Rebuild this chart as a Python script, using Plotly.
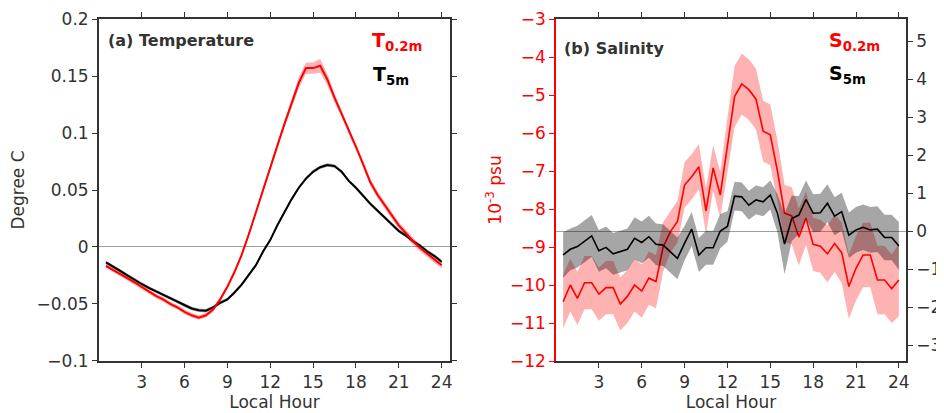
import plotly.graph_objects as go

# diurnal composites: temperature (deg C) and salinity (1e-3 psu) anomalies vs local hour

hours = [0.5, 1.0, 1.5, 2.0, 2.5, 3.0, 3.5, 4.0, 4.5, 5.0, 5.5, 6.0,
         6.5, 7.0, 7.5, 8.0, 8.5, 9.0, 9.5, 10.0, 10.5, 11.0, 11.5, 12.0,
         12.5, 13.0, 13.5, 14.0, 14.5, 15.0, 15.5, 16.0, 16.5, 17.0, 17.5, 18.0,
         18.5, 19.0, 19.5, 20.0, 20.5, 21.0, 21.5, 22.0, 22.5, 23.0, 23.5, 24.0]

t_02m = [-0.0165, -0.020, -0.0235, -0.027, -0.031, -0.035, -0.039, -0.043, -0.046, -0.050, -0.053, -0.057,
         -0.060, -0.062, -0.060, -0.055, -0.046, -0.035, -0.022, -0.007, 0.011, 0.031, 0.051, 0.070,
         0.089, 0.108, 0.126, 0.144, 0.157, 0.157, 0.159, 0.147, 0.131, 0.117, 0.102, 0.088,
         0.073, 0.057, 0.046, 0.037, 0.028, 0.019, 0.012, 0.005, -0.001, -0.006, -0.011, -0.016]
t_02m_err = [0.002, 0.002, 0.002, 0.002, 0.002, 0.002, 0.002, 0.002, 0.002, 0.002, 0.002, 0.002,
             0.002, 0.002, 0.002, 0.002, 0.002, 0.002, 0.002, 0.002, 0.002, 0.002, 0.002, 0.002,
             0.003, 0.003, 0.004, 0.005, 0.005, 0.005, 0.006, 0.005, 0.004, 0.003, 0.003, 0.003,
             0.003, 0.003, 0.003, 0.003, 0.003, 0.003, 0.003, 0.003, 0.003, 0.003, 0.003, 0.003]

t_5m = [-0.0135, -0.017, -0.021, -0.025, -0.029, -0.0325, -0.036, -0.039, -0.042, -0.045, -0.048, -0.0515,
        -0.054, -0.0555, -0.056, -0.053, -0.049, -0.046, -0.040, -0.033, -0.025, -0.016, -0.004, 0.006,
        0.019, 0.031, 0.042, 0.052, 0.060, 0.066, 0.070, 0.072, 0.071, 0.066, 0.058, 0.052,
        0.045, 0.038, 0.032, 0.026, 0.020, 0.014, 0.010, 0.005, 0.001, -0.004, -0.008, -0.013]
t_5m_err = [0.0015] * 48

s_02m = [-10.44, -10.0, -10.35, -9.94, -9.94, -10.24, -10.07, -10.07, -10.5, -10.3, -10.0, -10.16,
         -9.82, -9.91, -9.0, -8.6, -8.33, -7.37, -7.15, -6.89, -8.05, -6.92, -7.63, -6.3,
         -5.04, -4.71, -4.86, -5.11, -5.95, -6.05, -7.0, -8.11, -8.18, -8.74, -8.24, -8.93,
         -8.98, -9.18, -8.91, -9.15, -10.04, -9.56, -9.21, -9.21, -9.87, -9.87, -10.1, -9.87]
s_02m_err = [0.7, 0.7, 0.7, 0.7, 0.7, 0.7, 0.7, 0.7, 0.7, 0.7, 0.7, 0.7,
             0.7, 0.7, 0.65, 0.55, 0.55, 0.6, 0.6, 0.6, 0.6, 0.6, 0.6, 0.7,
             0.8, 0.8, 0.8, 0.8, 0.8, 0.8, 0.8, 0.75, 0.75, 0.75, 0.7, 0.7,
             0.7, 0.75, 0.75, 0.8, 0.85, 0.85, 0.85, 0.85, 0.9, 0.9, 0.9, 0.95]

s_5m = [-0.63, -0.48, -0.41, -0.28, -0.13, -0.52, -0.43, -0.60, -0.54, -0.48, -0.19, -0.30,
        -0.15, -0.35, -0.37, -0.54, -0.72, -0.32, 0.05, -0.63, -0.44, -0.44, 0.0, 0.12,
        0.92, 0.90, 0.68, 0.82, 0.77, 0.95, 0.47, -0.34, 0.33, 0.42, 0.83, 0.47,
        0.48, 0.73, 0.39, 0.51, -0.11, 0.03, 0.10, 0.03, 0.05, -0.17, -0.17, -0.39]
s_5m_err = [0.6, 0.55, 0.55, 0.55, 0.55, 0.55, 0.55, 0.55, 0.55, 0.55, 0.55, 0.55,
            0.55, 0.55, 0.55, 0.55, 0.55, 0.45, 0.45, 0.45, 0.45, 0.45, 0.45, 0.4,
            0.38, 0.38, 0.38, 0.38, 0.38, 0.38, 0.5, 0.8, 0.6, 0.5, 0.5, 0.5,
            0.5, 0.5, 0.5, 0.5, 0.6, 0.6, 0.6, 0.6, 0.6, 0.6, 0.6, 0.63]

x_ticks = [3, 6, 9, 12, 15, 18, 21, 24]

# the page body keeps an 8px margin, so the figure is drawn 8px in from the window corner
OFF = 8
W, H = 944 - OFF, 413 - OFF
FONT = "DejaVu Sans"
RED = "#ff0000"
AX = "#333333"


def fx(px):
    return (px - OFF) / W


def fy(py):
    return 1 - (py - OFF) / H


def band(x, y, err, fill, xa, ya):
    upper = [v + e for v, e in zip(y, err)]
    lower = [v - e for v, e in zip(y, err)]
    return go.Scatter(x=x + x[::-1], y=upper + lower[::-1], fill="toself", fillcolor=fill,
                      line=dict(width=0), mode="lines", hoverinfo="skip",
                      xaxis=xa, yaxis=ya, showlegend=False)


fig = go.Figure()

# (a) temperature
fig.add_trace(band(hours, t_5m, t_5m_err, "rgba(0,0,0,0.35)", "x", "y"))
fig.add_trace(band(hours, t_02m, t_02m_err, "rgba(255,0,0,0.3)", "x", "y"))
fig.add_trace(go.Scatter(x=hours, y=t_5m, mode="lines", line=dict(color="black", width=2),
                         xaxis="x", yaxis="y", showlegend=False))
fig.add_trace(go.Scatter(x=hours, y=t_02m, mode="lines", line=dict(color=RED, width=2),
                         xaxis="x", yaxis="y", showlegend=False))

# (b) salinity
fig.add_trace(band(hours, s_02m, s_02m_err, "rgba(255,0,0,0.3)", "x2", "y2"))
fig.add_trace(band(hours, s_5m, s_5m_err, "rgba(0,0,0,0.35)", "x2", "y3"))
fig.add_trace(go.Scatter(x=hours, y=s_02m, mode="lines", line=dict(color=RED, width=1.6),
                         xaxis="x2", yaxis="y2", showlegend=False))
fig.add_trace(go.Scatter(x=hours, y=s_5m, mode="lines", line=dict(color="black", width=1.6),
                         xaxis="x2", yaxis="y3", showlegend=False))

y_dom = [fy(361), fy(19)]
common = dict(showgrid=False, ticks="outside", ticklen=5, tickwidth=1, showline=True,
              linewidth=1.5, automargin=False,
              tickfont=dict(family=FONT, size=17, color=AX))

fig.update_layout(
    width=W, height=H,
    margin=dict(l=0, r=0, t=0, b=0),
    paper_bgcolor="white", plot_bgcolor="white",
    font=dict(family=FONT, color=AX),
    showlegend=False,
    xaxis=dict(domain=[fx(98.8), fx(450.2)], range=[0, 24.6], tickvals=x_ticks, anchor="y",
               linecolor=AX, tickcolor=AX, mirror="ticks", zeroline=False,
               title=dict(text="Local Hour", font=dict(family=FONT, size=17, color=AX), standoff=4),
               **common),
    yaxis=dict(domain=y_dom, range=[-0.1001, 0.2001], dtick=0.05, anchor="x",
               linecolor=AX, tickcolor=AX, mirror="ticks",
               zeroline=True, zerolinecolor="#a0a0a0", zerolinewidth=1,
               title=dict(text="Degree C", font=dict(family=FONT, size=17, color=AX), standoff=8),
               **common),
    xaxis2=dict(domain=[fx(556), fx(906)], range=[0, 24.5], tickvals=x_ticks, anchor="y2",
                linecolor=AX, tickcolor=AX, mirror="ticks", zeroline=False,
                title=dict(text="Local Hour", font=dict(family=FONT, size=17, color=AX), standoff=4),
                **common),
    yaxis2=dict(domain=y_dom, range=[-12, -3], dtick=1, anchor="x2",
                linecolor=RED, tickcolor=RED, zeroline=False,
                title=dict(text="10<sup>-3</sup> psu", font=dict(family=FONT, size=17, color=RED), standoff=4),
                **{**common, "tickfont": dict(family=FONT, size=17, color=RED)}),
    yaxis3=dict(range=[-3.42, 5.58], tickvals=[-3, -2, -1, 0, 1, 2, 3, 4, 5], anchor="x2",
                overlaying="y2", side="right",
                linecolor=AX, tickcolor=AX,
                zeroline=True, zerolinecolor="#a0a0a0", zerolinewidth=1,
                **common),
)

labels = [
    ("<b>(a) Temperature</b>", 106, 40, AX, 16),
    ("<b>T<sub>0.2m</sub></b>", 370, 42, RED, 19),
    ("<b>T<sub>5m</sub></b>", 371, 76, "black", 19),
    ("<b>(b) Salinity</b>", 562, 48, AX, 16),
    ("<b>S<sub>0.2m</sub></b>", 827, 42, RED, 19),
    ("<b>S<sub>5m</sub></b>", 827, 74, "black", 19),
]
for text, px, py, col, size in labels:
    fig.add_annotation(text=text, xref="paper", yref="paper", x=fx(px), y=fy(py),
                       xanchor="left", yanchor="middle", showarrow=False,
                       font=dict(family=FONT, size=size, color=col))

fig.write_html("out.html")
